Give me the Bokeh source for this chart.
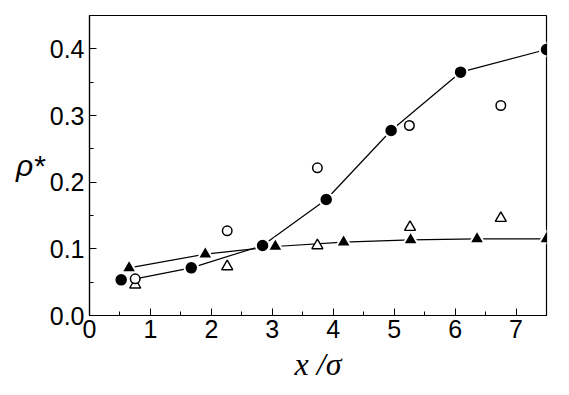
from bokeh.plotting import figure
from bokeh.models import Range1d, SingleIntervalTicker, PrintfTickFormatter
from bokeh.embed import file_html
from bokeh.resources import INLINE

# Filled circles (with connecting line)
fc_x = [0.52, 1.67, 2.84, 3.885, 4.95, 6.09, 7.5]
fc_y = [0.0535, 0.0715, 0.105, 0.174, 0.2775, 0.365, 0.399]
fc_line_x = [0.75, 1.67, 2.84, 3.885, 4.95, 6.09, 7.5]
fc_line_y = [0.055, 0.0715, 0.105, 0.174, 0.2775, 0.365, 0.399]

# Filled triangles (with connecting line)
ft_x = [0.65, 1.90, 3.05, 4.17, 5.27, 6.36, 7.5]
ft_y = [0.0715, 0.092, 0.1035, 0.110, 0.1135, 0.115, 0.115]

# Open circles
oc_x = [0.75, 2.26, 3.74, 5.25, 6.75]
oc_y = [0.055, 0.127, 0.2215, 0.285, 0.315]

# Open triangles
ot_x = [0.75, 2.26, 3.74, 5.26, 6.75]
ot_y = [0.046, 0.0735, 0.105, 0.1325, 0.146]

p = figure(width=561, height=387, output_backend="svg", toolbar_location=None,
           x_range=Range1d(0, 7.5), y_range=Range1d(0, 0.45),
           min_border_left=89, min_border_top=15, min_border_right=15, min_border_bottom=72)
p.frame_width = 457
p.frame_height = 300
p.grid.visible = False
p.outline_line_color = "black"
p.outline_line_width = 1.2
p.background_fill_color = "white"
p.border_fill_color = "white"

for ax in (p.xaxis[0], p.yaxis[0]):
    ax.axis_line_color = "black"
    ax.axis_line_width = 1.2
    ax.major_tick_in = 7
    ax.major_tick_out = 0
    ax.minor_tick_in = 4
    ax.minor_tick_out = 0
    ax.major_tick_line_color = "black"
    ax.minor_tick_line_color = "black"
    ax.major_label_text_font = "Liberation Sans"
    ax.major_label_text_font_size = "25px"
    ax.major_label_text_color = "black"

p.xaxis[0].ticker = SingleIntervalTicker(interval=1, num_minor_ticks=2)
p.yaxis[0].ticker = SingleIntervalTicker(interval=0.1, num_minor_ticks=2)
p.xaxis[0].formatter = PrintfTickFormatter(format="%d")
p.yaxis[0].formatter = PrintfTickFormatter(format="%.1f")
p.xaxis[0].major_label_standoff = 4
p.yaxis[0].major_label_standoff = 5

p.xaxis[0].axis_label = "x /σ"
p.xaxis[0].axis_label_text_font = "Liberation Serif"
p.xaxis[0].axis_label_text_font_style = "italic"
p.xaxis[0].axis_label_text_font_size = "32px"
p.xaxis[0].axis_label_text_color = "black"
p.xaxis[0].axis_label_standoff = 5

ya = p.yaxis[0]
ya.axis_label = "ρ*"
ya.axis_label_text_font = "Liberation Sans"
ya.axis_label_text_font_style = "italic"
ya.axis_label_text_font_size = "30px"
ya.axis_label_text_color = "black"
ya.axis_label_standoff = 2
try:
    ya.axis_label_orientation = "horizontal"
    ya.axis_label_text_baseline = "alphabetic"
except Exception:
    pass

# lines
p.line(fc_line_x, fc_line_y, line_color="black", line_width=1.2)
p.line(ft_x, ft_y, line_color="black", line_width=1.2)

# filled markers with white halo (gap to lines)
p.scatter(ft_x, ft_y, marker="triangle", size=15, fill_color="black",
          line_color="white", line_width=2)
p.scatter(fc_x, fc_y, marker="circle", size=13.5, fill_color="black",
          line_color="white", line_width=2)

# open markers
p.scatter(ot_x, ot_y, marker="triangle", size=11, fill_color="white",
          line_color="black", line_width=1.4)
p.scatter(oc_x, oc_y, marker="circle", size=9.5, fill_color="white",
          line_color="black", line_width=1.5)

open("out.html", "w").write(file_html(p, INLINE))
